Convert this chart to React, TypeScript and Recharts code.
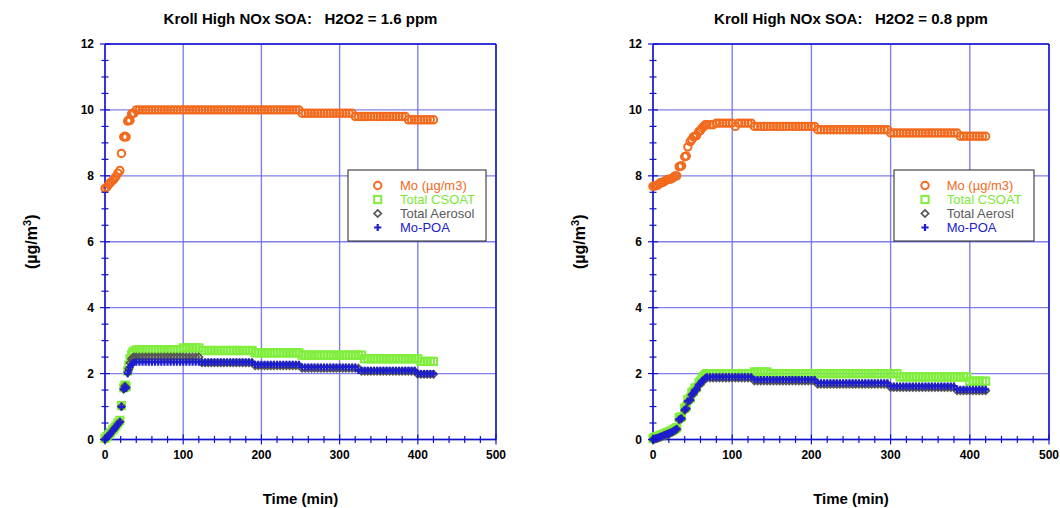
import { ScatterChart, Scatter, XAxis, YAxis, CartesianGrid } from 'recharts'

const FONT = '"Liberation Sans", Arial, Helvetica, sans-serif'
const ORANGE = '#f26a1d'
const GREEN = '#80ee3c'
const GRAY = '#555555'
const BLUE = '#1c1cd0'
const AXIS = '#1212cc'
const GRID = '#6a6ae8'

// axis ticks
const xTicks = [0, 20, 40, 60, 80, 100, 120, 140, 160, 180, 200, 220, 240, 260, 280, 300, 320, 340, 360, 380, 400, 420, 440, 460, 480, 500]
const yTicks = [0, 0.5, 1, 1.5, 2, 2.5, 3, 3.5, 4, 4.5, 5, 5.5, 6, 6.5, 7, 7.5, 8, 8.5, 9, 9.5, 10, 10.5, 11, 11.5, 12]
const xMajor = [0, 100, 200, 300, 400, 500]
const yMajor = [0, 2, 4, 6, 8, 10, 12]

// ---- left panel: H2O2 = 1.6 ppm ----
const timesL = [
  0, 2.5, 5, 7, 10, 12, 14, 16.5, 19, 21, 24, 25.5, 27, 29, 30.5, 32, 34, 35.5, 37,
  40, 44, 48, 52, 56, 60, 64, 68, 72, 76, 80, 84, 88, 92, 96, 100, 104, 108, 112, 116,
  120, 124, 128, 132, 136, 140, 144, 148, 152, 156, 160, 164, 168, 172, 176, 180, 184, 188, 192, 196,
  200, 204, 208, 212, 216, 220, 224, 228, 232, 236, 240, 244, 248, 252, 256, 260, 264, 268, 272, 276,
  280, 284, 288, 292, 296, 300, 304, 308, 312, 316, 320, 324, 328, 332, 336, 340, 344, 348, 352, 356,
  360, 364, 368, 372, 376, 380, 384, 388, 392, 396, 400, 404, 408, 412, 416, 420,
]
const moL = [
  7.62, 7.66, 7.74, 7.8, 7.86, 7.92, 7.98, 8.08, 8.16, 8.68, 9.18, 9.2, 9.18, 9.66, 9.7, 9.68, 9.88, 9.9, 9.9,
  10, 10, 10, 10, 10, 10, 10, 10, 10, 10, 10, 10, 10, 10, 10, 10, 10, 10, 10, 10,
  10, 10, 10, 10, 10, 10, 10, 10, 10, 10, 10, 10, 10, 10, 10, 10, 10, 10, 10, 10,
  10, 10, 10, 10, 10, 10, 10, 10, 10, 10, 10, 10, 10, 9.9, 9.9, 9.9, 9.9, 9.9, 9.9, 9.9,
  9.9, 9.9, 9.9, 9.9, 9.9, 9.9, 9.9, 9.9, 9.9, 9.9, 9.8, 9.8, 9.8, 9.8, 9.8, 9.8, 9.8, 9.8, 9.8, 9.8,
  9.8, 9.8, 9.8, 9.8, 9.8, 9.8, 9.8, 9.7, 9.7, 9.7, 9.7, 9.7, 9.7, 9.7, 9.7, 9.7,
]
const csL = [
  0.03, 0.09, 0.15, 0.21, 0.29, 0.35, 0.41, 0.5, 0.58, 1.03, 1.57, 1.65, 1.6, 2.08, 2.25, 2.45, 2.58, 2.64, 2.68,
  2.72, 2.72, 2.72, 2.72, 2.72, 2.72, 2.72, 2.72, 2.72, 2.72, 2.72, 2.72, 2.72, 2.72, 2.72, 2.78, 2.78, 2.78, 2.78, 2.78,
  2.78, 2.7, 2.7, 2.7, 2.7, 2.7, 2.7, 2.7, 2.7, 2.7, 2.7, 2.7, 2.7, 2.7, 2.7, 2.7, 2.7, 2.7, 2.63, 2.63,
  2.63, 2.63, 2.63, 2.63, 2.63, 2.63, 2.63, 2.63, 2.63, 2.63, 2.63, 2.63, 2.63, 2.56, 2.56, 2.56, 2.56, 2.56, 2.56, 2.56,
  2.56, 2.56, 2.56, 2.56, 2.56, 2.56, 2.56, 2.56, 2.56, 2.56, 2.56, 2.56, 2.56, 2.45, 2.45, 2.45, 2.45, 2.45, 2.45, 2.45,
  2.45, 2.45, 2.45, 2.45, 2.45, 2.45, 2.45, 2.45, 2.45, 2.45, 2.45, 2.37, 2.37, 2.37, 2.37, 2.37,
]
const aeL = [
  0.01, 0.07, 0.13, 0.19, 0.27, 0.33, 0.39, 0.47, 0.54, 1.0, 1.53, 1.62, 1.58, 2.03, 2.15, 2.32, 2.44, 2.48, 2.5,
  2.5, 2.5, 2.5, 2.5, 2.5, 2.5, 2.5, 2.5, 2.5, 2.5, 2.5, 2.5, 2.5, 2.5, 2.5, 2.5, 2.5, 2.5, 2.5, 2.5,
  2.5, 2.33, 2.33, 2.33, 2.33, 2.33, 2.33, 2.33, 2.33, 2.33, 2.33, 2.33, 2.33, 2.33, 2.33, 2.33, 2.33, 2.33, 2.24, 2.24,
  2.24, 2.24, 2.24, 2.24, 2.24, 2.24, 2.24, 2.24, 2.24, 2.24, 2.24, 2.24, 2.24, 2.16, 2.16, 2.16, 2.16, 2.16, 2.16, 2.16,
  2.16, 2.16, 2.16, 2.16, 2.16, 2.16, 2.16, 2.16, 2.16, 2.16, 2.16, 2.16, 2.07, 2.07, 2.07, 2.07, 2.07, 2.07, 2.07, 2.07,
  2.07, 2.07, 2.07, 2.07, 2.07, 2.07, 2.07, 2.07, 2.07, 2.07, 1.98, 1.98, 1.98, 1.98, 1.98, 1.98,
]
const poL = [
  0, 0.06, 0.12, 0.18, 0.26, 0.32, 0.38, 0.46, 0.53, 0.99, 1.52, 1.6, 1.56, 2.0, 2.1, 2.2, 2.28, 2.32, 2.34,
  2.35, 2.35, 2.35, 2.35, 2.35, 2.35, 2.35, 2.35, 2.35, 2.35, 2.35, 2.35, 2.35, 2.35, 2.35, 2.35, 2.35, 2.35, 2.35, 2.35,
  2.35, 2.35, 2.35, 2.35, 2.35, 2.35, 2.35, 2.35, 2.35, 2.35, 2.35, 2.35, 2.35, 2.35, 2.35, 2.35, 2.35, 2.35, 2.28, 2.28,
  2.28, 2.28, 2.28, 2.28, 2.28, 2.28, 2.28, 2.28, 2.28, 2.28, 2.28, 2.28, 2.28, 2.2, 2.2, 2.2, 2.2, 2.2, 2.2, 2.2,
  2.2, 2.2, 2.2, 2.2, 2.2, 2.2, 2.2, 2.2, 2.2, 2.2, 2.2, 2.1, 2.1, 2.1, 2.1, 2.1, 2.1, 2.1, 2.1, 2.1,
  2.1, 2.1, 2.1, 2.1, 2.1, 2.1, 2.1, 2.1, 2.1, 2.1, 2.0, 2.0, 2.0, 2.0, 2.0, 2.0,
]

// ---- right panel: H2O2 = 0.8 ppm ----
const timesR = [
  0, 2, 4, 6, 8, 10, 12, 14, 16, 18, 20, 22, 24, 26, 28, 30, 33, 35, 36, 40, 42, 44, 47, 49, 51, 53, 55, 58, 60, 62, 64, 66,
  68, 72, 76, 80, 84, 88, 92, 96, 100, 104, 108, 112, 116, 120, 124, 128, 132, 136, 140, 144,
  148, 152, 156, 160, 164, 168, 172, 176, 180, 184, 188, 192, 196, 200, 204, 208, 212, 216, 220, 224,
  228, 232, 236, 240, 244, 248, 252, 256, 260, 264, 268, 272, 276, 280, 284, 288, 292, 296, 300, 304,
  308, 312, 316, 320, 324, 328, 332, 336, 340, 344, 348, 352, 356, 360, 364, 368, 372, 376, 380, 384,
  388, 392, 396, 400, 404, 408, 412, 416, 420,
]
const moR = [
  7.68, 7.7, 7.7, 7.72, 7.76, 7.8, 7.8, 7.82, 7.86, 7.88, 7.9, 7.9, 7.92, 7.96, 8.0, 8.0, 8.28, 8.3, 8.3, 8.58, 8.6, 8.88, 9.04, 9.1, 9.18, 9.2, 9.22, 9.35, 9.38, 9.45, 9.5, 9.55,
  9.55, 9.55, 9.55, 9.6, 9.6, 9.6, 9.6, 9.6, 9.6, 9.5, 9.6, 9.6, 9.6, 9.6, 9.6, 9.5, 9.5, 9.5, 9.5, 9.5,
  9.5, 9.5, 9.5, 9.5, 9.5, 9.5, 9.5, 9.5, 9.5, 9.5, 9.5, 9.5, 9.5, 9.5, 9.5, 9.4, 9.4, 9.4, 9.4, 9.4,
  9.4, 9.4, 9.4, 9.4, 9.4, 9.4, 9.4, 9.4, 9.4, 9.4, 9.4, 9.4, 9.4, 9.4, 9.4, 9.4, 9.4, 9.4, 9.3, 9.3,
  9.3, 9.3, 9.3, 9.3, 9.3, 9.3, 9.3, 9.3, 9.3, 9.3, 9.3, 9.3, 9.3, 9.3, 9.3, 9.3, 9.3, 9.3, 9.3, 9.3,
  9.2, 9.2, 9.2, 9.2, 9.2, 9.2, 9.2, 9.2, 9.2,
]
const csR = [
  0.03, 0.06, 0.08, 0.09, 0.11, 0.13, 0.15, 0.17, 0.19, 0.21, 0.23, 0.25, 0.27, 0.3, 0.33, 0.36, 0.66, 0.68, 0.69, 0.95, 0.99, 1.21, 1.26, 1.42, 1.46, 1.56, 1.58, 1.72, 1.77, 1.86, 1.92, 1.97,
  2.0, 2.0, 2.0, 2.0, 2.0, 2.0, 2.0, 2.0, 2.0, 2.0, 2.0, 2.0, 2.0, 2.0, 2.0, 2.05, 2.05, 2.05, 2.05, 2.05,
  2.0, 2.0, 2.0, 2.0, 2.0, 2.0, 2.0, 2.0, 2.0, 2.0, 2.0, 2.0, 2.0, 2.0, 2.0, 2.0, 2.0, 2.0, 2.0, 2.0,
  2.0, 2.0, 2.0, 2.0, 2.0, 2.0, 2.0, 2.0, 2.0, 2.0, 2.0, 2.0, 2.0, 2.0, 2.0, 2.0, 2.0, 2.0, 2.0, 2.0,
  2.0, 1.9, 1.9, 1.9, 1.9, 1.9, 1.9, 1.9, 1.9, 1.9, 1.9, 1.9, 1.9, 1.9, 1.9, 1.9, 1.9, 1.9, 1.9, 1.9,
  1.9, 1.9, 1.9, 1.77, 1.77, 1.77, 1.77, 1.77, 1.77,
]
const aeR = [
  0, 0.01, 0.03, 0.04, 0.06, 0.08, 0.1, 0.12, 0.14, 0.16, 0.18, 0.2, 0.22, 0.25, 0.28, 0.31, 0.6, 0.62, 0.63, 0.89, 0.93, 1.15, 1.19, 1.35, 1.39, 1.49, 1.51, 1.65, 1.69, 1.76, 1.8, 1.84,
  1.87, 1.87, 1.87, 1.87, 1.87, 1.87, 1.87, 1.87, 1.87, 1.87, 1.87, 1.87, 1.87, 1.87, 1.87, 1.78, 1.78, 1.78, 1.78, 1.78,
  1.78, 1.78, 1.78, 1.78, 1.78, 1.78, 1.78, 1.78, 1.78, 1.78, 1.78, 1.78, 1.78, 1.78, 1.78, 1.68, 1.68, 1.68, 1.68, 1.68,
  1.68, 1.68, 1.68, 1.68, 1.68, 1.68, 1.68, 1.68, 1.68, 1.68, 1.68, 1.68, 1.68, 1.68, 1.68, 1.68, 1.68, 1.68, 1.58, 1.58,
  1.58, 1.58, 1.58, 1.58, 1.58, 1.58, 1.58, 1.58, 1.58, 1.58, 1.58, 1.58, 1.58, 1.58, 1.58, 1.58, 1.58, 1.58, 1.58, 1.48,
  1.48, 1.48, 1.48, 1.48, 1.48, 1.48, 1.48, 1.48, 1.48,
]
const poR = [
  0, 0.02, 0.04, 0.05, 0.07, 0.09, 0.11, 0.13, 0.15, 0.17, 0.19, 0.21, 0.23, 0.26, 0.29, 0.32, 0.61, 0.63, 0.64, 0.9, 0.94, 1.16, 1.2, 1.36, 1.4, 1.5, 1.52, 1.66, 1.7, 1.78, 1.82, 1.86,
  1.9, 1.9, 1.9, 1.9, 1.9, 1.9, 1.9, 1.9, 1.9, 1.9, 1.9, 1.9, 1.9, 1.9, 1.9, 1.82, 1.82, 1.82, 1.82, 1.82,
  1.82, 1.82, 1.82, 1.82, 1.82, 1.82, 1.82, 1.82, 1.82, 1.82, 1.82, 1.82, 1.82, 1.82, 1.82, 1.72, 1.72, 1.72, 1.72, 1.72,
  1.72, 1.72, 1.72, 1.72, 1.72, 1.72, 1.72, 1.72, 1.72, 1.72, 1.72, 1.72, 1.72, 1.72, 1.72, 1.72, 1.72, 1.72, 1.62, 1.62,
  1.62, 1.62, 1.62, 1.62, 1.62, 1.62, 1.62, 1.62, 1.62, 1.62, 1.62, 1.62, 1.62, 1.62, 1.62, 1.62, 1.62, 1.62, 1.62, 1.52,
  1.52, 1.52, 1.52, 1.52, 1.52, 1.52, 1.52, 1.52, 1.52,
]

const legendL = ['Mo (µg/m3)', 'Total CSOAT', 'Total Aerosol', 'Mo-POA']
const legendR = ['Mo (µg/m3)', 'Total CSOAT', 'Total Aerosl', 'Mo-POA']

// marker shapes
const Ring = ({ cx, cy }: any) => <circle cx={cx} cy={cy} r={3.7} fill="none" stroke={ORANGE} strokeWidth={2} />
const Box = ({ cx, cy }: any) => (
  <rect x={cx - 3.6} y={cy - 3.6} width={7.2} height={7.2} fill="none" stroke={GREEN} strokeWidth={2} />
)
const Diamond = ({ cx, cy }: any) => (
  <path d={`M${cx},${cy - 3.6}L${cx + 3.6},${cy}L${cx},${cy + 3.6}L${cx - 3.6},${cy}Z`} fill="none" stroke={GRAY} strokeWidth={1.7} />
)
const Plus = ({ cx, cy }: any) => (
  <path d={`M${cx - 3.6},${cy}H${cx + 3.6}M${cx},${cy - 3.6}V${cy + 3.6}`} stroke={BLUE} strokeWidth={2.2} />
)

const tickText = { fontFamily: FONT, fontSize: 12, fontWeight: 700, fill: '#000' }

function BottomTick({ x, y, payload }: any) {
  const major = payload.value % 100 === 0
  const h = major ? 5 : 3.5
  return (
    <g>
      <line x1={x} x2={x} y1={y - h} y2={y + h} stroke={AXIS} strokeWidth={1.2} />
      {major && (
        <text x={x} y={y + 19.5} textAnchor="middle" {...tickText}>
          {payload.value}
        </text>
      )}
    </g>
  )
}

function TopTick({ x, y, payload }: any) {
  const h = payload.value % 100 === 0 ? 5 : 3.5
  return <line x1={x} x2={x} y1={y - h} y2={y + h} stroke={AXIS} strokeWidth={1.2} />
}

function LeftTick({ x, y, payload }: any) {
  const major = payload.value % 2 === 0
  const w = major ? 5 : 3.5
  return (
    <g>
      <line x1={x - w} x2={x + w} y1={y} y2={y} stroke={AXIS} strokeWidth={1.2} />
      {major && (
        <text x={x - 11} y={y} dy="0.36em" textAnchor="end" {...tickText}>
          {payload.value}
        </text>
      )}
    </g>
  )
}

function RightTick({ x, y, payload }: any) {
  const w = payload.value % 2 === 0 ? 5 : 3.5
  return <line x1={x - w} x2={x + w} y1={y} y2={y} stroke={AXIS} strokeWidth={1.2} />
}

interface PanelProps {
  left: number
  mLeft: number
  mRight: number
  title: string
  times: number[]
  mo: number[]
  cs: number[]
  ae: number[]
  po: number[]
  names: string[]
  legendX: number
  legendW: number
  markX: number
  textX: number
}

const W = 530
const H = 508
const TOP = 44
const BOTTOM = 68.5

function Panel(p: PanelProps) {
  const pts = (vals: number[]) => p.times.map((t, i) => ({ x: t, y: vals[i] }))
  const cx = p.mLeft + (W - p.mLeft - p.mRight) / 2
  const cy = TOP + (H - TOP - BOTTOM) / 2
  const colors = [ORANGE, '#7de83a', '#5a5a5a', '#2222cc']
  const marks = [Ring, Box, Diamond, Plus]
  const axisLine = { stroke: AXIS, strokeWidth: 1.5 }

  // axes are 1px thick, margins are reduced by that so the plot box stays in place
  return (
    <div style={{ position: 'absolute', left: p.left, top: 0, width: W, height: H }}>
      <ScatterChart width={W} height={H} margin={{ top: TOP - 1, right: p.mRight - 1, bottom: BOTTOM - 1, left: p.mLeft - 1 }}>
        <CartesianGrid stroke={GRID} strokeWidth={1.4} strokeOpacity={0.85} verticalValues={xMajor} horizontalValues={yMajor} />
        <XAxis dataKey="x" type="number" domain={[0, 500]} ticks={xTicks} interval={0} height={1}
          tickSize={0} tickMargin={0} tickLine={false} axisLine={axisLine} tick={<BottomTick />} />
        <XAxis xAxisId="top" orientation="top" dataKey="x" type="number" domain={[0, 500]} ticks={xTicks} interval={0}
          height={1} tickSize={0} tickMargin={0} tickLine={false} axisLine={axisLine} tick={<TopTick />} />
        <YAxis dataKey="y" type="number" domain={[0, 12]} ticks={yTicks} interval={0} width={1}
          tickSize={0} tickMargin={0} tickLine={false} axisLine={axisLine} tick={<LeftTick />} />
        <YAxis yAxisId="right" orientation="right" dataKey="y" type="number" domain={[0, 12]} ticks={yTicks} interval={0}
          width={1} tickSize={0} tickMargin={0} tickLine={false} axisLine={axisLine} tick={<RightTick />} />
        <Scatter name={p.names[0]} data={pts(p.mo)} shape={(s: any) => <Ring {...s} />} isAnimationActive={false} />
        <Scatter name={p.names[1]} data={pts(p.cs)} shape={(s: any) => <Box {...s} />} isAnimationActive={false} />
        <Scatter name={p.names[2]} data={pts(p.ae)} shape={(s: any) => <Diamond {...s} />} isAnimationActive={false} />
        <Scatter name={p.names[3]} data={pts(p.po)} shape={(s: any) => <Plus {...s} />} isAnimationActive={false} />
      </ScatterChart>

      <svg width={W} height={H} style={{ position: 'absolute', left: 0, top: 0, pointerEvents: 'none' }}>
        <text x={cx} y={24} textAnchor="middle" fontFamily={FONT} fontSize={15} fontWeight={700} style={{ whiteSpace: 'pre' }}>
          {p.title}
        </text>
        <text x={cx} y={504} textAnchor="middle" fontFamily={FONT} fontSize={15} fontWeight={700}>
          Time (min)
        </text>
        <text transform={`translate(${p.mLeft - 74},${cy}) rotate(-90)`} textAnchor="middle" dy="0.35em"
          fontFamily={FONT} fontSize={16} fontWeight={700}>
          (µg/m<tspan dy={-6} fontSize={11}>3</tspan><tspan dy={6}>)</tspan>
        </text>

        <rect x={p.legendX} y={170} width={p.legendW} height={71} fill="#fff" stroke="#222" strokeWidth={1} />
        {p.names.map((n, i) => {
          const yy = 185.5 + i * 14
          const M = marks[i]
          return (
            <g key={n}>
              <M cx={p.markX} cy={yy} />
              <text x={p.textX} y={yy + 4.6} fontFamily={FONT} fontSize={13} fill={colors[i]}>
                {n}
              </text>
            </g>
          )
        })}
      </svg>
    </div>
  )
}

export default function App() {
  return (
    <div style={{ position: 'absolute', left: 0, top: 0, width: 1060, height: 508, background: '#fff' }}>
      <Panel left={0} mLeft={105} mRight={34} title="Kroll High NOx SOA:   H2O2 = 1.6 ppm"
        times={timesL} mo={moL} cs={csL} ae={aeL} po={poL} names={legendL}
        legendX={348} legendW={138} markX={377.7} textX={400} />
      <Panel left={530} mLeft={123} mRight={11} title="Kroll High NOx SOA:   H2O2 = 0.8 ppm"
        times={timesR} mo={moR} cs={csR} ae={aeR} po={poR} names={legendR}
        legendX={364} legendW={140} markX={395} textX={416.7} />
    </div>
  )
}
